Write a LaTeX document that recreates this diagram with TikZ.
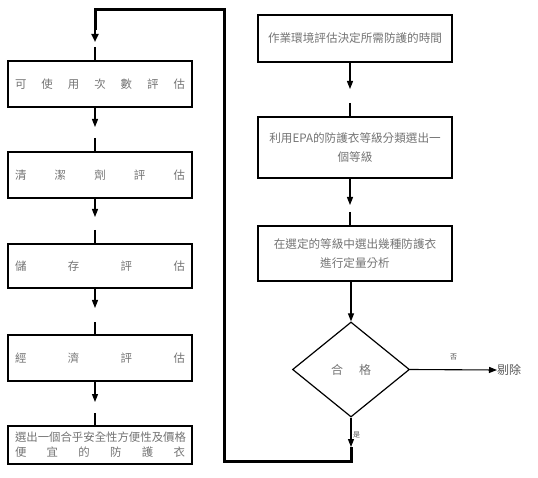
\documentclass[tikz,border=0pt]{standalone}
\usepackage{fontspec}
\newfontfamily\cjk{Noto Sans CJK TC}
\usetikzlibrary{arrows.meta,shapes.geometric}
\newcommand\spreadtext[2]{\makebox[#1][s]{#2}}
\begin{document}
\begin{tikzpicture}[x=1pt,y=-1pt,
  box/.style={draw=black,line width=1.2pt,rectangle,inner sep=0pt,align=center,
    font=\cjk\fontsize{11.4}{15}\selectfont,text=black!55},
  rbox/.style={box,font=\cjk\fontsize{11.6}{18.5}\selectfont},
  dec/.style={draw=black,line width=1.2pt,diamond,inner sep=0pt,
    minimum width=117pt,minimum height=95pt,shape aspect=1.23,
    font=\cjk\fontsize{12}{14}\selectfont,text=black!55},
  conn/.style={line width=1.1pt,-{Triangle[length=8pt,width=6pt]}},
  seg/.style={line width=1.1pt},
  thick line/.style={line width=3pt},
  lbl/.style={font=\cjk\fontsize{7}{8}\selectfont,text=black!70,inner sep=0pt}]
\useasboundingbox (0,0) rectangle (538,478);
% left column
\node[box,minimum width=184pt,minimum height=46pt] (L1) at (100,84)
  {\spreadtext{170pt}{可\hfill 使\hfill 用\hfill 次\hfill 數\hfill 評\hfill 估}};
\node[box,minimum width=184pt,minimum height=46pt] (L2) at (100,175)
  {\spreadtext{170pt}{清\hfill 潔\hfill 劑\hfill 評\hfill 估}};
\node[box,minimum width=184pt,minimum height=44pt] (L3) at (100,266)
  {\spreadtext{170pt}{儲\hfill 存\hfill 評\hfill 估}};
\node[box,minimum width=184pt,minimum height=46pt] (L4) at (100,358)
  {\spreadtext{170pt}{經\hfill 濟\hfill 評\hfill 估}};
\node[box,minimum width=184pt,minimum height=38pt] (L5) at (100,445)
  {\spreadtext{170pt}{選出一個合乎安全性方便性及價格}\\
   \spreadtext{170pt}{便\hfill 宜\hfill 的\hfill 防\hfill 護\hfill 衣}};
% right column
\node[rbox,minimum width=194pt,minimum height=47pt] (R1) at (355,38.5)
  {\raisebox{-3pt}{作業環境評估決定所需防護的時間}};
\node[rbox,minimum width=194pt,minimum height=61pt] (R2) at (355,147.5)
  {利用EPA的防護衣等級分類選出一\\個等級};
\node[rbox,minimum width=194pt,minimum height=55pt] (R3) at (355,253.5)
  {在選定的等級中選出幾種防護衣\\進行定量分析};
\node[dec] (D) at (351,369.5) {合\hspace{16pt}格};
\node[font=\cjk\fontsize{12}{14}\selectfont,text=black!65,anchor=west,inner sep=0pt] (X) at (497,370) {剔除};
% helper coordinates
\coordinate (t0) at (95,42);  \coordinate (g0) at (95,47);
\coordinate (a0) at (95,30);
\coordinate (t1) at (95,127); \coordinate (g1) at (95,138);
\coordinate (t2) at (95,217); \coordinate (g2) at (95,230);
\coordinate (t3) at (95,308); \coordinate (g3) at (95,322);
\coordinate (t4) at (95,402); \coordinate (g4) at (95,413);
\coordinate (rt1) at (350,89);  \coordinate (rg1) at (350,103);
\coordinate (rt2) at (350,205); \coordinate (rg2) at (350,212);
\coordinate (ytip) at (351,447);
\coordinate (c1) at (351,461);
\coordinate (c2) at (224,461);
\coordinate (c3) at (224,10);
\coordinate (c4) at (95,10);
% left connectors
\draw[conn] (L1.south -| t1) -- (t1);  \draw[seg] (g1) -- (L2.north -| g1);
\draw[conn] (L2.south -| t2) -- (t2);  \draw[seg] (g2) -- (L3.north -| g2);
\draw[conn] (L3.south -| t3) -- (t3);  \draw[seg] (g3) -- (L4.north -| g3);
\draw[conn] (L4.south -| t4) -- (t4);  \draw[seg] (g4) -- (L5.north -| g4);
\draw[seg] (g0) -- (L1.north -| g0);
% right connectors
\draw[conn] (R1.south -| rt1) -- (rt1);  \draw[seg] (rg1) -- (R2.north -| rg1);
\draw[conn] (R2.south -| rt2) -- (rt2);  \draw[seg] (rg2) -- (R3.north -| rg2);
\draw[conn] (R3.south -| D.north) -- (D.north);
\draw[conn] (D.east) -- (X.west) node[lbl,midway,above=9pt] {否};
\draw[conn] (D.south) -- (ytip) node[lbl,pos=0.6,right=1.5pt] {是};
% feedback loop
\draw[thick line] (ytip) -- (c1) -- (c2) -- (c3) -- (c4) -- (a0);
\draw[line width=2.4pt,-{Triangle[length=8pt,width=7pt]}] (a0) -- (t0);
\end{tikzpicture}
\end{document}
